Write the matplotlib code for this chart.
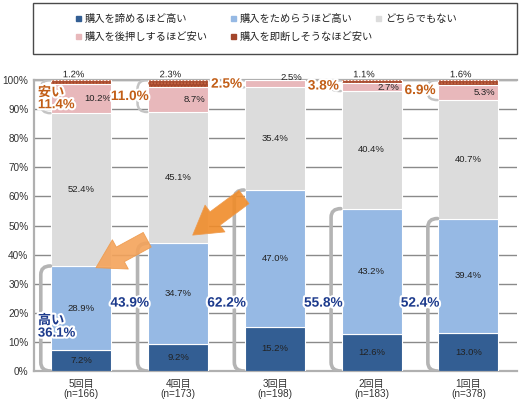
import numpy as np
import matplotlib
matplotlib.use('Agg')
import matplotlib.pyplot as plt
import matplotlib.patheffects as pe
from matplotlib.path import Path
from matplotlib.patches import PathPatch, Rectangle

plt.rcParams['font.family'] = ['Liberation Sans', 'Noto Sans CJK JP', 'DejaVu Sans']

# ---- data (percent) ----
rounds = ['5回目', '4回目', '3回目', '2回目', '1回目']
n_counts = [166, 173, 198, 183, 378]
series = ['購入を諦めるほど高い', '購入をためらうほど高い', 'どちらでもない',
          '購入を後押しするほど安い', '購入を即断しそうなほど安い']
too_high = [7.2, 9.2, 15.2, 12.6, 13.0]
high = [28.9, 34.7, 47.0, 43.2, 39.4]
neutral = [52.4, 45.1, 35.4, 40.4, 40.7]
cheap = [10.2, 8.7, 2.5, 2.7, 5.3]
too_cheap = [1.2, 2.3, 0.0, 1.1, 1.6]
high_total = [36.1, 43.9, 62.2, 55.8, 52.4]
cheap_total = [11.4, 11.0, 2.5, 3.8, 6.9]

colors = ['#335e93', '#96b9e4', '#dcdcdc', '#e8b8bb', '#a3462b']
blue_txt = '#1c3a8c'
orange_txt = '#c25e17'

data = np.array([too_high, high, neutral, cheap, too_cheap]) / 100.0
x = np.arange(len(rounds))
bar_w = 0.62

fig = plt.figure(figsize=(5.2, 4.01), dpi=100)
ax = fig.add_axes([0.0654, 0.0748, 0.9286, 0.7257])

# ---- stacked bars ----
bottom = np.zeros(len(rounds))
for k in range(len(series)):
    ax.bar(x, data[k], bar_w, bottom=bottom, color=colors[k], edgecolor='white',
           linewidth=0.8, zorder=3, label=series[k])
    if k == 4:
        ax.bar(x, data[k], bar_w, bottom=bottom, color='none', edgecolor='#c86a48',
               linewidth=0, hatch='.....', zorder=3.5)
    bottom += data[k]

# ---- segment labels ----
stroke = [pe.withStroke(linewidth=2.5, foreground='white')]
cum = np.cumsum(data, axis=0)
for i in range(len(rounds)):
    for k in range(3):
        yc = cum[k, i] - data[k, i] / 2
        ax.text(x[i], yc, f'{data[k, i]*100:.1f}%', ha='center', va='center',
                fontsize=6.8, color='#222222', zorder=5)
    # pink segment label sits to the right
    yc = cum[3, i] - data[3, i] / 2
    if too_cheap[i] == 0:
        yc = 1.01
    ax.text(x[i] + 0.17, yc, f'{cheap[i]:.1f}%', ha='center', va='center',
            fontsize=6.8, color='#222222', zorder=5)
    if too_cheap[i] > 0:
        ax.text(x[i] - 0.08, 1.018, f'{too_cheap[i]:.1f}%', ha='center', va='center',
                fontsize=6.8, color='#222222', zorder=6, path_effects=stroke)


# ---- grey brackets left of each bar ----
def bracket(xc, y0, y1, color='#b4b4b4', lw=2.6):
    xr = xc - bar_w / 2 - 0.01
    xl = xc - 0.42
    d = min(0.03, (y1 - y0) / 3)
    verts = [(xr, y1), (xl, y1), (xl, y1 - d), (xl, y0 + d), (xl, y0), (xr, y0)]
    codes = [Path.MOVETO, Path.CURVE3, Path.CURVE3, Path.LINETO, Path.CURVE3, Path.CURVE3]
    ax.add_patch(PathPatch(Path(verts, codes), fill=False, edgecolor=color,
                           linewidth=lw, capstyle='round', zorder=4))


for i in range(len(rounds)):
    bracket(x[i], 0.0, high_total[i] / 100)
    bracket(x[i], 1 - cheap_total[i] / 100, 1.0, color='#c4c4c4', lw=1.8)

# ---- summary labels ----
bstroke = [pe.withStroke(linewidth=3, foreground='white')]
for i in range(len(rounds)):
    if i == 0:
        ax.text(x[i] - 0.45, 0.15, f'高い\n{high_total[i]:.1f}%', ha='left', va='center',
                fontsize=9.5, fontweight='bold', color=blue_txt, linespacing=1.05,
                zorder=7, path_effects=bstroke)
        ax.text(x[i] - 0.45, 1 - 0.066, f'安い\n{cheap_total[i]:.1f}%', ha='left',
                va='center', fontsize=9.5, fontweight='bold', color=orange_txt,
                linespacing=1.0, zorder=7, path_effects=bstroke)
    else:
        ax.text(x[i] - 0.5, 0.235, f'{high_total[i]:.1f}%', ha='center', va='center',
                fontsize=9.8, fontweight='bold', color=blue_txt, zorder=7,
                path_effects=bstroke)
        ax.text(x[i] - 0.5, 1 - cheap_total[i] / 200, f'{cheap_total[i]:.1f}%',
                ha='center', va='center', fontsize=9.8, fontweight='bold',
                color=orange_txt, zorder=7, path_effects=bstroke)

# ---- orange arrows (from bar i+1 down to bar i) ----
# (i, colour, tail y shift, tip y shift)
for i, fc, dy_tail, dy_tip in [(0, '#f4a35a', 0.012, -0.006), (1, '#f08c2a', -0.024, 0.028)]:
    ax.annotate('', xy=(x[i] + 0.15, high_total[i] / 100 + dy_tip),
                xytext=(x[i] + 0.68, high_total[i + 1] / 100 + dy_tail),
                arrowprops=dict(arrowstyle='simple,tail_width=0.6,head_width=1.2,head_length=1.0',
                                mutation_scale=20, fc=fc, ec='#ee9a4c', lw=0.6,
                                alpha=0.9, shrinkA=0, shrinkB=0),
                zorder=8)

# ---- axes styling ----
ax.set_xlim(-0.49, 4.5)
ax.set_ylim(0, 1.0)
ax.set_yticks(np.arange(0, 1.01, 0.1))
ax.set_yticklabels([f'{int(v)}%' for v in np.arange(0, 101, 10)])
ax.set_xticks(x)
ax.set_xticklabels([f'{r}\n(n={n})' for r, n in zip(rounds, n_counts)], linespacing=1.0)
ax.tick_params(axis='both', length=0, labelsize=7.2, colors='#333333')
ax.tick_params(axis='x', pad=6)
ax.tick_params(axis='y', pad=4)
ax.yaxis.grid(True, color='#8a8a8a', linewidth=1.0, zorder=0)
ax.set_axisbelow(True)
for side in ['left', 'top', 'bottom']:
    ax.spines[side].set_color('#b0b0b0')
    ax.spines[side].set_linewidth(1.6)
ax.spines['right'].set_visible(False)

# ---- legend box ----
fig.patches.append(Rectangle((0.0635, 0.865), 0.931, 0.127, transform=fig.transFigure,
                             fill=False, edgecolor='#4a4a4a', linewidth=1.0))
col_x = [0.152, 0.450, 0.729]
row_y = [0.953, 0.908]
for k, name in enumerate(series):
    cx = col_x[k % 3]
    cy = row_y[k // 3]
    fig.patches.append(Rectangle((cx - 0.005, cy - 0.006), 0.009, 0.012,
                                 transform=fig.transFigure, color=colors[k]))
    fig.text(cx + 0.011, cy, name, ha='left', va='center', fontsize=7.4, color='#222222')

fig.savefig('out.png', dpi=100)
